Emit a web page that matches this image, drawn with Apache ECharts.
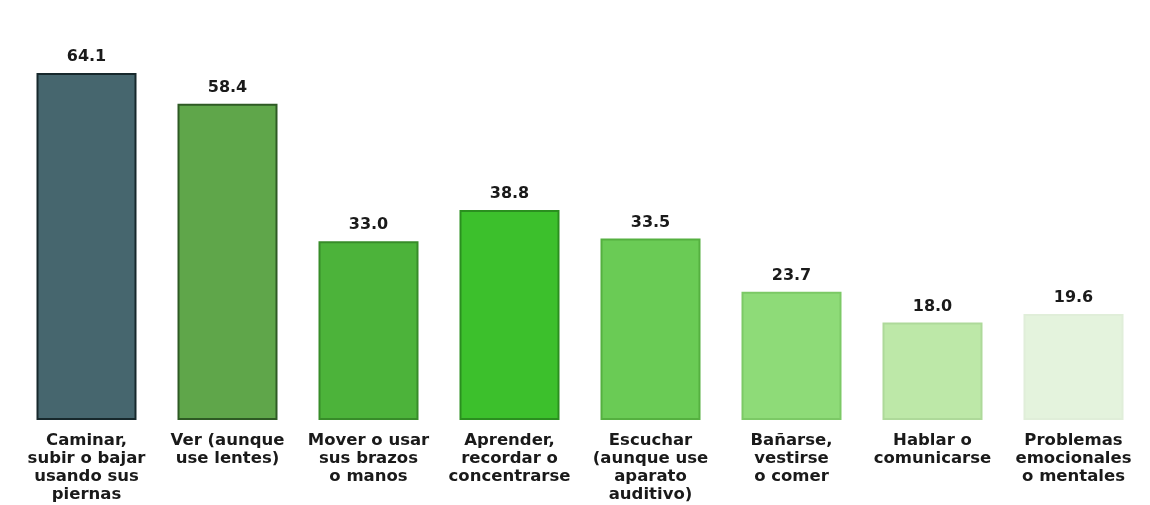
<!DOCTYPE html>
<html><head><meta charset="utf-8">
<script src="https://cdn.jsdelivr.net/npm/echarts@6/dist/echarts.min.js"></script>
<style>html,body{margin:0;padding:0;background:#fff}#c{width:1150px;height:505px}</style>
</head><body><div id="c"></div>
<script>
var categories = ["Caminar,\nsubir o bajar\nusando sus\npiernas","Ver (aunque\nuse lentes)","Mover o usar\nsus brazos\no manos","Aprender,\nrecordar o\nconcentrarse","Escuchar\n(aunque use\naparato\nauditivo)","Bañarse,\nvestirse\no comer","Hablar o\ncomunicarse","Problemas\nemocionales\no mentales"];
var values = [64.1, 58.4, 33.0, 38.8, 33.5, 23.7, 18.0, 19.6];
var fillColors = ["#46666e","#5fa64a","#4cb33a","#3cc02c","#6acb55","#8edb78","#bde8a8","#e4f3dd"];
var borderColors = ["#17282c","#2e5a24","#378c29","#2a8f1f","#55b040","#7cc966","#aed99a","#e0eed9"];

var chart = echarts.init(document.getElementById('c'), null, {renderer:'canvas'});
chart.setOption({
  animation:false,
  backgroundColor:'#ffffff',
  grid:{left:16, right:6, top:41, bottom:85},
  xAxis:{type:'category', data:categories,
    axisLine:{show:false}, axisTick:{show:false},
    axisLabel:{interval:0, color:'#1a1a1a', fontFamily:'DejaVu Sans, sans-serif', fontWeight:'bold', fontSize:16.5, lineHeight:18, margin:12, align:'center'}},
  yAxis:{type:'value', min:0, max:70, show:false, splitLine:{show:false}},
  series:[{type:'bar', barWidth:100,
    data: values.map(function(v,i){return {value:v, itemStyle:{color:fillColors[i], borderColor:borderColors[i], borderWidth:2}};}),
    label:{show:true, position:'top', distance:8, color:'#1a1a1a', fontFamily:'DejaVu Sans, sans-serif', fontWeight:'bold', fontSize:16,
      formatter:function(p){return p.value.toFixed(1);}}
  }]
});
</script></body></html>
